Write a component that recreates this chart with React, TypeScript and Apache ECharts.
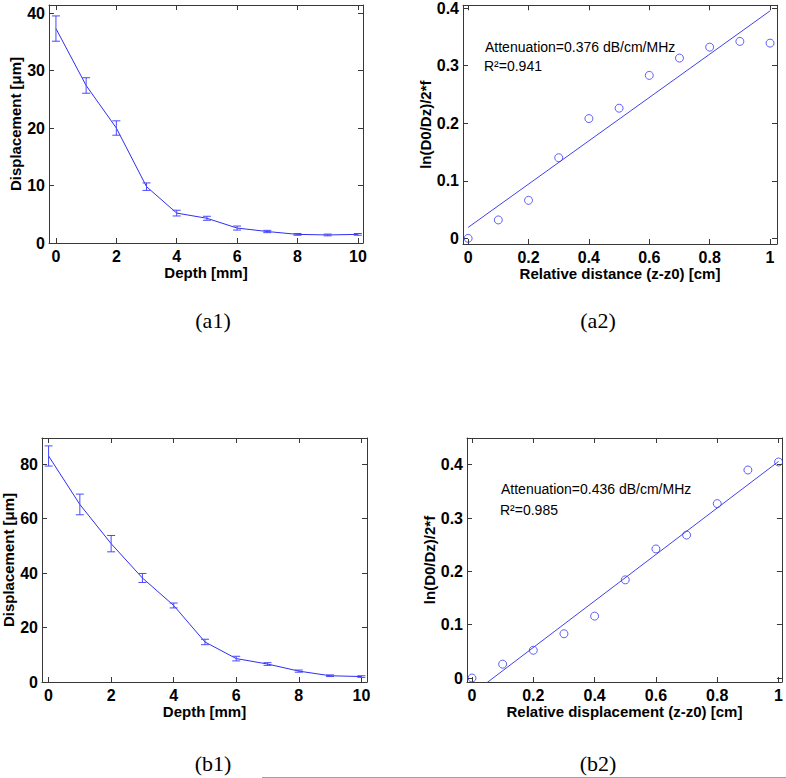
import React, { useEffect, useRef } from 'react';
import * as echarts from 'echarts';

// ---------- data ----------
const depth = [0, 1, 2, 3, 4, 5, 6, 7, 8, 9, 10];
const a1Mean = [37.3, 27.4, 20.0, 9.8, 5.2, 4.3, 2.6, 2.0, 1.5, 1.4, 1.5];
const a1Err = [2.2, 1.35, 1.25, 0.65, 0.5, 0.35, 0.35, 0.2, 0.15, 0.15, 0.15];

const relDist = [0, 0.1, 0.2, 0.3, 0.4, 0.5, 0.6, 0.7, 0.8, 0.9, 1.0];
const a2Ratio = [0, 0.032, 0.066, 0.14, 0.208, 0.226, 0.283, 0.313, 0.332, 0.342, 0.339];
const a2FitX = [0, 1];
const a2FitY = [0.019, 0.395];

const b1Mean = [83.0, 65.2, 50.8, 38.2, 28.1, 14.7, 8.6, 6.6, 4.0, 2.3, 2.0];
const b1Err = [3.7, 3.8, 3.0, 1.65, 0.9, 1.0, 0.85, 0.5, 0.4, 0.3, 0.3];

const b2Ratio = [0, 0.026, 0.052, 0.083, 0.116, 0.184, 0.242, 0.268, 0.327, 0.39, 0.405];
const b2FitX = [0, 1];
const b2FitY = [-0.03, 0.406];

const a2Texts = ['Attenuation=0.376 dB/cm/MHz', 'R²=0.941'];
const b2Texts = ['Attenuation=0.436 dB/cm/MHz', 'R²=0.985'];
const captions = ['(a1)', '(a2)', '(b1)', '(b2)'];

const FONT = '"Liberation Sans", Arial, sans-serif';
const BLUE = '#2f2ff0';
const AXIS = '#383838';

function fmtFactory(step: number) {
  return (v: number) => {
    const r = v / step;
    if (Math.abs(r - Math.round(r)) > 1e-6) return '';
    return String(+(Math.round(r) * step).toFixed(4));
  };
}

function makeAxes(
  gi: number,
  xr: [number, number],
  yr: [number, number],
  xStep: number,
  yStep: number,
  xSplit: number,
  ySplit: number,
  xName: string,
  yName: string,
  xGap: number,
  yGap: number
) {
  const tick = { show: true, inside: true, length: 5, lineStyle: { color: AXIS, width: 1 } };
  const line = { show: true, onZero: false, lineStyle: { color: AXIS, width: 1 } };
  const lab = (step: number, margin: number) => ({
    show: true,
    color: '#000',
    fontFamily: FONT,
    fontWeight: 'bold' as const,
    fontSize: 16,
    margin,
    formatter: fmtFactory(step),
    showMinLabel: true,
    showMaxLabel: true,
  });
  const nameStyle = { color: '#000', fontFamily: FONT, fontWeight: 'bold' as const, fontSize: 15 };
  const xAxes = [
    {
      type: 'value', gridIndex: gi, position: 'bottom', min: xr[0], max: xr[1], splitNumber: xSplit,
      axisLine: line, axisTick: tick, axisLabel: lab(xStep, 5), splitLine: { show: false },
      name: xName, nameLocation: 'middle', nameGap: xGap, nameTextStyle: nameStyle,
    },
    {
      type: 'value', gridIndex: gi, position: 'top', min: xr[0], max: xr[1], splitNumber: xSplit,
      axisLine: line, axisTick: tick, axisLabel: { show: false }, splitLine: { show: false },
    },
  ];
  const yAxes = [
    {
      type: 'value', gridIndex: gi, position: 'left', min: yr[0], max: yr[1], splitNumber: ySplit,
      axisLine: line, axisTick: tick, axisLabel: lab(yStep, 4), splitLine: { show: false },
      name: yName, nameLocation: 'middle', nameGap: yGap, nameTextStyle: nameStyle,
    },
    {
      type: 'value', gridIndex: gi, position: 'right', min: yr[0], max: yr[1], splitNumber: ySplit,
      axisLine: line, axisTick: tick, axisLabel: { show: false }, splitLine: { show: false },
    },
  ];
  return { xAxes, yAxes };
}

function errorSeries(axisIdx: number, xs: number[], mean: number[], err: number[]) {
  return {
    type: 'custom',
    xAxisIndex: axisIdx,
    yAxisIndex: axisIdx,
    data: xs.map((x, i) => [x, mean[i] - err[i], mean[i] + err[i]]),
    encode: { x: 0, y: [1, 2] },
    renderItem: (_params: any, api: any) => {
      const x = api.value(0);
      const lo = api.coord([x, api.value(1)]);
      const hi = api.coord([x, api.value(2)]);
      const w = 4;
      const st = { stroke: '#4a4aff', lineWidth: 1 };
      return {
        type: 'group',
        children: [
          { type: 'line', shape: { x1: lo[0], y1: lo[1], x2: hi[0], y2: hi[1] }, style: st },
          { type: 'line', shape: { x1: lo[0] - w, y1: lo[1], x2: lo[0] + w, y2: lo[1] }, style: st },
          { type: 'line', shape: { x1: hi[0] - w, y1: hi[1], x2: hi[0] + w, y2: hi[1] }, style: st },
        ],
      };
    },
    silent: true,
    z: 3,
  };
}

function meanLine(axisIdx: number, xs: number[], ys: number[]) {
  return {
    type: 'line',
    xAxisIndex: axisIdx,
    yAxisIndex: axisIdx,
    data: xs.map((x, i) => [x, ys[i]]),
    symbol: 'none',
    lineStyle: { color: BLUE, width: 1 },
    silent: true,
    z: 2,
  };
}

function scatterPts(axisIdx: number, xs: number[], ys: number[]) {
  return {
    type: 'scatter',
    xAxisIndex: axisIdx,
    yAxisIndex: axisIdx,
    data: xs.map((x, i) => [x, ys[i]]),
    symbol: 'circle',
    symbolSize: 8,
    itemStyle: { color: 'rgba(0,0,0,0)', borderColor: '#3a3af5', borderWidth: 1 },
    silent: true,
    z: 3,
  };
}

function fitLine(axisIdx: number, xs: number[], ys: number[]) {
  return {
    type: 'line',
    xAxisIndex: axisIdx,
    yAxisIndex: axisIdx,
    data: xs.map((x, i) => [x, ys[i]]),
    symbol: 'none',
    clip: true,
    lineStyle: { color: '#4040f0', width: 1 },
    silent: true,
    z: 2,
  };
}

export default function App() {
  const ref = useRef<HTMLDivElement>(null);
  useEffect(() => {
    if (!ref.current) return;
    const chart = echarts.init(ref.current, undefined, { renderer: 'svg' });

    const g = [
      { left: 49, top: 5, width: 314, height: 238 },
      { left: 463, top: 4, width: 314, height: 240 },
      { left: 42, top: 438, width: 325, height: 244 },
      { left: 467, top: 438, width: 315, height: 244 },
    ];
    const A = makeAxes(0, [-0.23, 10.17], [0, 41.4], 2, 10, 5, 4, 'Depth [mm]', 'Displacement [μm]', 21, 25);
    const B = makeAxes(1, [-0.017, 1.023], [-0.0098, 0.4047], 0.2, 0.1, 5, 4, 'Relative distance (z-z0) [cm]', 'ln(D0/Dz)/2*f', 21, 29);
    const C = makeAxes(2, [-0.21, 10.18], [0, 89.6], 2, 20, 5, 4, 'Depth [mm]', 'Displacement [μm]', 21, 25);
    const D = makeAxes(3, [-0.0163, 1.011], [-0.0075, 0.45], 0.2, 0.1, 5, 5, 'Relative displacement (z-z0) [cm]', 'ln(D0/Dz)/2*f', 21, 30);

    // axis index layout: bottom/left axes at index 2*i, top/right at 2*i+1
    const xAxis = [...A.xAxes, ...B.xAxes, ...C.xAxes, ...D.xAxes];
    const yAxis = [...A.yAxes, ...B.yAxes, ...C.yAxes, ...D.yAxes];

    const annStyle = { font: `14px ${FONT}`, fill: '#000', verticalAlign: 'middle' as const };
    const capStyle = { font: `22px "Liberation Serif", "Times New Roman", serif`, fill: '#000', align: 'center' as const, verticalAlign: 'middle' as const };

    chart.setOption({
      animation: false,
      backgroundColor: '#fff',
      grid: g.map((q) => ({ ...q, containLabel: false })),
      xAxis,
      yAxis,
      series: [
        meanLine(0, depth, a1Mean),
        errorSeries(0, depth, a1Mean, a1Err),
        fitLine(2, a2FitX, a2FitY),
        scatterPts(2, relDist, a2Ratio),
        meanLine(4, depth, b1Mean),
        errorSeries(4, depth, b1Mean, b1Err),
        fitLine(6, b2FitX, b2FitY),
        scatterPts(6, relDist, b2Ratio),
      ],
      graphic: [
        { type: 'text', x: 485, y: 47, style: { ...annStyle, text: a2Texts[0] } },
        { type: 'text', x: 484, y: 66, style: { ...annStyle, text: a2Texts[1] } },
        { type: 'text', x: 501, y: 489, style: { ...annStyle, text: b2Texts[0] } },
        { type: 'text', x: 500, y: 510, style: { ...annStyle, text: b2Texts[1] } },
        { type: 'text', x: 213, y: 320, style: { ...capStyle, text: captions[0] } },
        { type: 'text', x: 598, y: 320, style: { ...capStyle, text: captions[1] } },
        { type: 'text', x: 213, y: 763, style: { ...capStyle, text: captions[2] } },
        { type: 'text', x: 598, y: 763, style: { ...capStyle, text: captions[3] } },
        { type: 'line', shape: { x1: 262, y1: 777.5, x2: 786, y2: 777.5 }, style: { stroke: '#a0a0a0', lineWidth: 1 } },
      ],
    });
    return () => chart.dispose();
  }, []);
  return (
    <div
      ref={ref}
      style={{ position: 'fixed', left: 0, top: 0, width: 786, height: 778, background: '#fff' }}
    />
  );
}
